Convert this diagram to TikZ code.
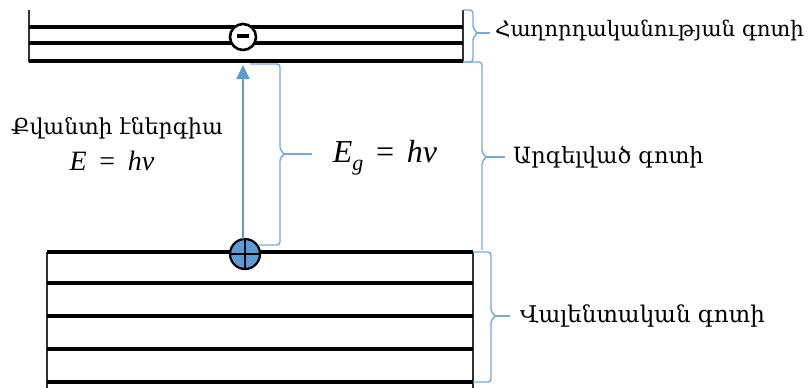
\documentclass[tikz,border=0pt]{standalone}
\usepackage{fontspec}
\setmainfont{DejaVu Serif}
\newfontfamily\armfont{DejaVu Serif}
\newfontfamily\tms{Liberation Serif}
\usetikzlibrary{arrows.meta}
\definecolor{bblue}{HTML}{5B9BD5}
\begin{document}
\begin{tikzpicture}[x=1pt,y=-1pt,
  bandline/.style={line width=3.2pt,black},
  bandside/.style={line width=1.4pt,black!80},
  bracepath/.style={bblue!85,line width=1.4pt,rounded corners=3pt},
  bracetip/.style={bblue!85,line width=1.4pt},
  armlabel/.style={anchor=west,inner sep=0pt},
  mathlabel/.style={inner sep=0pt}]
\useasboundingbox (0,0) rectangle (809,388);
% conduction band
\draw[bandside] (29,10) -- (29,62);
\draw[bandside] (463,10) -- (463,62);
\foreach \yy in {27,43,61} \draw[bandline] (29,\yy) -- (463,\yy);
% valence band
\draw[bandside] (47,252) -- (47,388);
\draw[bandside] (473,252) -- (473,388);
\foreach \yy in {252,283,316,349,382} \draw[bandline] (47,\yy) -- (473,\yy);
% electron
\node[circle,draw=black,line width=2.6pt,fill=white,minimum size=26pt,inner sep=0pt] (el) at (243,37) {};
\draw[line width=4pt,black] (237,36) -- (249,36);
% hole and arrow
\node[circle,draw=black,line width=2.2pt,fill=bblue,minimum size=30pt,inner sep=0pt] (hole) at (245,254) {};
\coordinate (top) at (243,65);
\draw[bblue,line width=2pt,-{Triangle[length=14pt,width=13pt]}] (243,239) -- (top);
\draw[black,line width=2pt] (hole.north) -- (hole.south) (hole.west) -- (hole.east);
% Eg brace
\draw[bracepath] (250,64) -- (280,64) -- (280,150) -- (285,154) -- (280,158) -- (280,245) -- (259,245);
\draw[bracetip] (284,154) -- (312,154);
% conduction brace
\draw[bracepath] (463,10) -- (473,10) -- (473,29) -- (478,33) -- (473,37) -- (473,62) -- (463,62);
\draw[bracetip] (477,33) -- (490,33);
% forbidden brace
\draw[bracepath] (463,62) -- (482,62) -- (482,153) -- (487,157) -- (482,161) -- (482,250);
\draw[bracetip] (486,157) -- (505,157);
% valence brace
\draw[bracepath] (473,252) -- (491,252) -- (491,312) -- (496,316) -- (491,320) -- (491,382) -- (473,382);
\draw[bracetip] (495,316) -- (510,316);
% labels
\node[armlabel,font=\armfont\fontsize{21.3}{24}\selectfont] (lc) at (495,30) {Հաղորդականության գոտի};
\node[armlabel,font=\armfont\fontsize{22.4}{25}\selectfont] (lf) at (513,157) {Արգելված գոտի};
\node[armlabel,font=\armfont\fontsize{23}{26}\selectfont] (lv) at (520,316) {Վալենտական գոտի};
\node[inner sep=0pt,font=\armfont\fontsize{22}{25}\selectfont] (lq) at (117,128) {Քվանտի էներգիա};
\node[mathlabel,font=\tms\fontsize{28}{32}\selectfont] (le) at (112,161) {\textit{E}\hspace{0.45em}=\hspace{0.45em}\textit{hv}};
\node[mathlabel,font=\tms\fontsize{32}{36}\selectfont] (leg) at (385,158) {\textit{E}\raisebox{-0.25em}{\fontsize{22}{24}\selectfont\textit{g}}\hspace{0.4em}=\hspace{0.4em}\textit{hv}};
\end{tikzpicture}
\end{document}
